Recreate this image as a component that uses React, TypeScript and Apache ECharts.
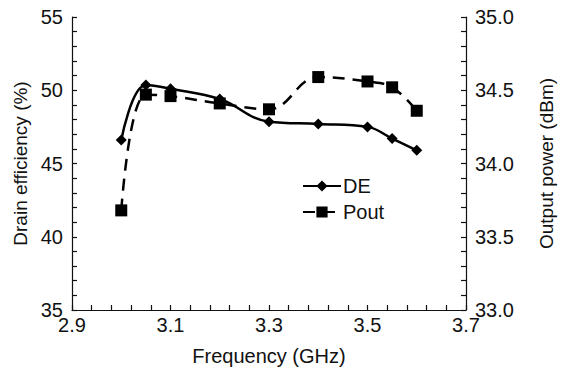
import React, { useEffect, useRef } from "react";
import * as echarts from "echarts";

const freq = [3.0, 3.05, 3.1, 3.2, 3.3, 3.4, 3.5, 3.55, 3.6];
const deValues = [46.6, 50.35, 50.1, 49.4, 47.85, 47.7, 47.5, 46.7, 45.9];
const poutValues = [33.68, 34.47, 34.46, 34.41, 34.37, 34.59, 34.56, 34.52, 34.36];

const FONT = "Liberation Sans";

export default function App() {
  const ref = useRef<HTMLDivElement>(null);
  useEffect(() => {
    if (!ref.current) return;
    const chart = echarts.init(ref.current, null, { renderer: "svg" });
    const axisLine = { show: true, lineStyle: { color: "#111", width: 1.2 } };
    const tick = { show: true, inside: true, length: 5, lineStyle: { color: "#111", width: 1.2 } };
    const minor = { show: true, splitNumber: 5, length: 5, lineStyle: { color: "#111", width: 1.2 } };
    chart.setOption({
      animation: false,
      backgroundColor: "#fff",
      grid: { left: 72, right: 73, top: 17, bottom: 64 },
      legend: {
        orient: "vertical",
        left: 302,
        top: 176,
        padding: 0,
        itemWidth: 38,
        itemHeight: 14,
        itemGap: 6,
        textStyle: {
          fontFamily: FONT,
          fontSize: 20,
          lineHeight: 14,
          color: "#111",
          padding: [0, 0, 0, -3],
        },
        data: ["DE", "Pout"],
      },
      xAxis: {
        type: "value",
        min: 2.9,
        max: 3.7,
        interval: 0.2,
        name: "Frequency (GHz)",
        nameLocation: "middle",
        nameGap: 36,
        nameTextStyle: { fontFamily: FONT, fontSize: 20, color: "#111" },
        axisLine,
        axisTick: tick,
        minorTick: minor,
        splitLine: { show: false },
        axisLabel: {
          fontFamily: FONT,
          fontSize: 20,
          color: "#111",
          margin: 5,
          formatter: (v: number) => v.toFixed(1),
        },
      },
      yAxis: [
        {
          type: "value",
          min: 35,
          max: 55,
          interval: 5,
          name: "Drain efficiency (%)",
          nameLocation: "middle",
          nameGap: 40,
          nameTextStyle: { fontFamily: FONT, fontSize: 19, color: "#111" },
          axisLine,
          axisTick: tick,
          minorTick: minor,
          splitLine: { show: false },
          axisLabel: { fontFamily: FONT, fontSize: 20, color: "#111", margin: 9 },
        },
        {
          type: "value",
          min: 33,
          max: 35,
          interval: 0.5,
          position: "right",
          name: "Output power (dBm)",
          nameLocation: "middle",
          nameGap: 71,
          nameRotate: 90,
          nameTextStyle: { fontFamily: FONT, fontSize: 19, color: "#111" },
          axisLine,
          axisTick: tick,
          minorTick: minor,
          splitLine: { show: false },
          axisLabel: {
            fontFamily: FONT,
            fontSize: 20,
            color: "#111",
            margin: 9,
            formatter: (v: number) => v.toFixed(1),
          },
        },
      ],
      series: [
        {
          name: "DE",
          type: "line",
          yAxisIndex: 0,
          smooth: 0.4,
          data: freq.map((f, i) => [f, deValues[i]]),
          symbol: "diamond",
          symbolSize: 11,
          itemStyle: { color: "#000" },
          lineStyle: { color: "#000", width: 2.5 },
          z: 3,
        },
        {
          name: "Pout",
          type: "line",
          yAxisIndex: 1,
          smooth: 0.4,
          data: freq.map((f, i) => [f, poutValues[i]]),
          symbol: "rect",
          symbolSize: 12,
          itemStyle: { color: "#000" },
          lineStyle: { color: "#000", width: 2.5, type: [12, 8] },
          z: 2,
        },
      ],
    });
    return () => chart.dispose();
  }, []);
  return <div ref={ref} style={{ width: 564, height: 374, position: "absolute", left: 0, top: 0 }} />;
}
